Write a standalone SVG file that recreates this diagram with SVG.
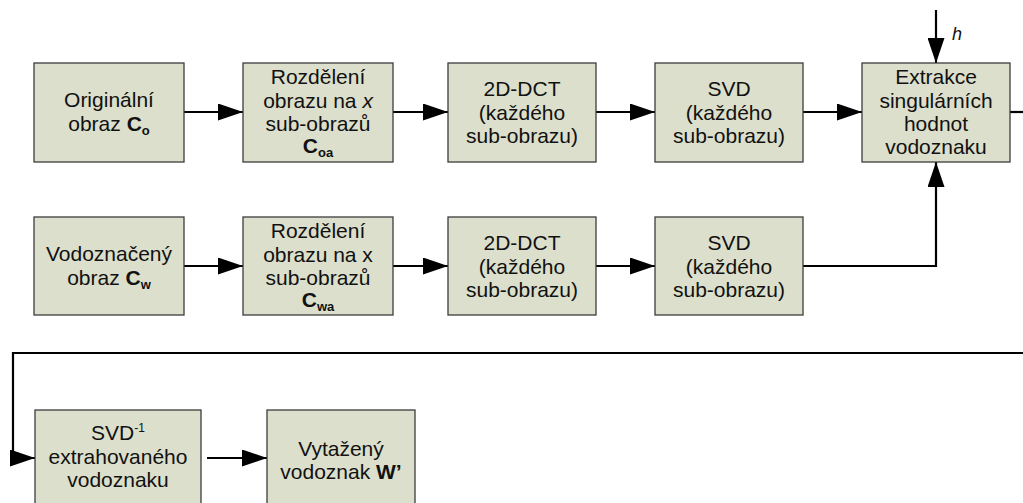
<svg xmlns="http://www.w3.org/2000/svg" width="1023" height="503" viewBox="0 0 1023 503">
<defs>
<style>
.box{fill:#dcdfcb;stroke:#3c3c3c;stroke-width:1.3}
.t{font-family:"Liberation Sans",Arial,sans-serif;font-size:21px;fill:#111;text-anchor:middle}
.b{font-weight:bold}
.sub{font-weight:bold;font-size:13px}
.c{fill:none;stroke:#000;stroke-width:2.2}
</style>
<marker id="ah" markerUnits="userSpaceOnUse" markerWidth="26" markerHeight="17" refX="25" refY="8.5" orient="auto">
<path d="M0,0 L25,8.5 L0,17 Z" fill="#000"/>
</marker>
</defs>
<rect width="1023" height="503" fill="#fff"/>

<g id="connectors">
<line class="c" x1="184" y1="112" x2="243" y2="112" marker-end="url(#ah)"/>
<line class="c" x1="393" y1="112" x2="448" y2="112" marker-end="url(#ah)"/>
<line class="c" x1="596" y1="112" x2="655" y2="112" marker-end="url(#ah)"/>
<line class="c" x1="803" y1="112" x2="862" y2="112" marker-end="url(#ah)"/>
<line class="c" x1="1010" y1="112" x2="1023" y2="112"/>
<line class="c" x1="936" y1="10" x2="936" y2="63" marker-end="url(#ah)"/>
<text class="t" x="957" y="40" style="font-size:18px;font-style:italic">h</text>
<line class="c" x1="184" y1="266" x2="243" y2="266" marker-end="url(#ah)"/>
<line class="c" x1="393" y1="266" x2="448" y2="266" marker-end="url(#ah)"/>
<line class="c" x1="596" y1="266" x2="655" y2="266" marker-end="url(#ah)"/>
<polyline class="c" points="803,266 936,266 936,162" marker-end="url(#ah)"/>
<polyline class="c" points="1023,353 13,353 13,458 35,458" marker-end="url(#ah)"/>
<line class="c" x1="207" y1="458" x2="267" y2="458" marker-end="url(#ah)"/>
</g>

<g id="n-original">
<rect class="box" x="34" y="63" width="150" height="99"/>
<text class="t" x="109" y="107">Originální</text>
<text class="t" x="109" y="131">obraz <tspan class="b">C</tspan><tspan class="sub" dy="4">o</tspan></text>
</g>
<g id="n-rozdeleni1">
<rect class="box" x="243" y="63" width="150" height="99"/>
<text class="t" x="318" y="84">Rozdělení</text>
<text class="t" x="318" y="107.5">obrazu na <tspan font-style="italic">x</tspan></text>
<text class="t" x="318" y="131">sub-obrazů</text>
<text class="t" x="318" y="153"><tspan class="b">C</tspan><tspan class="sub" dy="4">oa</tspan></text>
</g>
<g id="n-dct1">
<rect class="box" x="448" y="63" width="148" height="99"/>
<text class="t" x="522" y="96">2D-DCT</text>
<text class="t" x="522" y="119.5">(každého</text>
<text class="t" x="522" y="143">sub-obrazu)</text>
</g>
<g id="n-svd1">
<rect class="box" x="655" y="63" width="148" height="99"/>
<text class="t" x="729" y="96">SVD</text>
<text class="t" x="729" y="119.5">(každého</text>
<text class="t" x="729" y="143">sub-obrazu)</text>
</g>
<g id="n-extrakce">
<rect class="box" x="862" y="63" width="148" height="99"/>
<text class="t" x="936" y="84">Extrakce</text>
<text class="t" x="936" y="107.5">singulárních</text>
<text class="t" x="936" y="131">hodnot</text>
<text class="t" x="936" y="154">vodoznaku</text>
</g>

<g id="n-vodoznaceny">
<rect class="box" x="34" y="217" width="150" height="98"/>
<text class="t" x="109" y="261">Vodoznačený</text>
<text class="t" x="109" y="285">obraz <tspan class="b">C</tspan><tspan class="sub" dy="4">w</tspan></text>
</g>
<g id="n-rozdeleni2">
<rect class="box" x="243" y="217" width="150" height="98"/>
<text class="t" x="318" y="238">Rozdělení</text>
<text class="t" x="318" y="261.5">obrazu na x</text>
<text class="t" x="318" y="285">sub-obrazů</text>
<text class="t" x="318" y="307"><tspan class="b">C</tspan><tspan class="sub" dy="4">wa</tspan></text>
</g>
<g id="n-dct2">
<rect class="box" x="448" y="217" width="148" height="98"/>
<text class="t" x="522" y="250">2D-DCT</text>
<text class="t" x="522" y="273.5">(každého</text>
<text class="t" x="522" y="297">sub-obrazu)</text>
</g>
<g id="n-svd2">
<rect class="box" x="655" y="217" width="148" height="98"/>
<text class="t" x="729" y="250">SVD</text>
<text class="t" x="729" y="273.5">(každého</text>
<text class="t" x="729" y="297">sub-obrazu)</text>
</g>

<g id="n-svdinv">
<rect class="box" x="35" y="410" width="166" height="98"/>
<text class="t" x="118" y="440">SVD<tspan font-size="12px" dy="-8">-1</tspan></text>
<text class="t" x="118" y="464">extrahovaného</text>
<text class="t" x="118" y="487">vodoznaku</text>
</g>
<g id="n-vytazeny">
<rect class="box" x="267" y="410" width="148" height="98"/>
<text class="t" x="341" y="456">Vytažený</text>
<text class="t" x="341" y="479">vodoznak <tspan class="b">W’</tspan></text>
</g>
</svg>
